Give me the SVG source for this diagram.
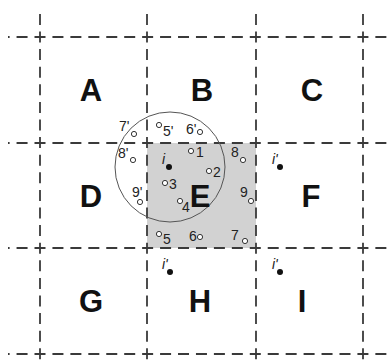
<svg xmlns="http://www.w3.org/2000/svg" width="388" height="364" viewBox="0 0 388 364">
<style>
.grid{stroke:#3a3a3a;stroke-width:1.8;fill:none}
.h{stroke-dasharray:11 6.94;stroke-dashoffset:9.38}
.v{stroke-dasharray:11 6.6;stroke-dashoffset:14.7}
.big{font-family:"Liberation Sans",Arial,sans-serif;font-weight:bold;font-size:31px;text-anchor:middle;fill:#111}
.sm{font-family:"Liberation Sans",Arial,sans-serif;font-size:14px;fill:#222}
.it{font-family:"Liberation Sans",Arial,sans-serif;font-style:italic;font-size:14px;fill:#222}
.pt{fill:#fff;stroke:#333;stroke-width:1}
.dot{fill:#111}
</style>
<rect width="388" height="364" fill="#fff"/>
<rect x="147" y="143" width="109" height="105" fill="#d2d2d2"/>
<g id="connectors">
<line class="grid h" x1="8" y1="37" x2="388" y2="37"/>
<line class="grid h" x1="8" y1="143" x2="388" y2="143"/>
<line class="grid h" x1="8" y1="248" x2="388" y2="248"/>
<line class="grid h" x1="8" y1="354" x2="388" y2="354"/>
<line class="grid v" x1="40" y1="11" x2="40" y2="364"/>
<line class="grid v" x1="147" y1="11" x2="147" y2="364"/>
<line class="grid v" x1="256" y1="11" x2="256" y2="364"/>
<line class="grid v" x1="363" y1="11" x2="363" y2="364"/>
<circle cx="170" cy="167" r="55" fill="none" stroke="#555" stroke-width="1"/>
</g>
<g id="A"><text class="big" x="91" y="101">A</text></g>
<g id="B"><text class="big" x="202" y="101">B</text></g>
<g id="C"><text class="big" x="312" y="101">C</text></g>
<g id="D"><text class="big" x="91" y="207">D</text></g>
<g id="E"><text class="big" x="200" y="207">E</text></g>
<g id="F"><text class="big" x="311" y="207">F</text></g>
<g id="G"><text class="big" x="91" y="312">G</text></g>
<g id="H"><text class="big" x="200" y="312">H</text></g>
<g id="I"><text class="big" x="302" y="312">I</text></g>
<g id="i"><circle class="dot" cx="169" cy="167" r="3"/><text class="it" x="162" y="164">i</text></g>
<g id="p1"><circle class="pt" cx="191" cy="151" r="2.6"/><text class="sm" x="196" y="157">1</text></g>
<g id="p2"><circle class="pt" cx="209" cy="171" r="2.6"/><text class="sm" x="213" y="177">2</text></g>
<g id="p3"><circle class="pt" cx="165" cy="183" r="2.6"/><text class="sm" x="169" y="189">3</text></g>
<g id="p4"><circle class="pt" cx="180" cy="201" r="2.6"/><text class="sm" x="182" y="212">4</text></g>
<g id="p5"><circle class="pt" cx="159" cy="234" r="2.6"/><text class="sm" x="163" y="244">5</text></g>
<g id="p6"><circle class="pt" cx="200" cy="237" r="2.6"/><text class="sm" x="189" y="241">6</text></g>
<g id="p7"><circle class="pt" cx="245" cy="241" r="2.6"/><text class="sm" x="231" y="240">7</text></g>
<g id="p8"><circle class="pt" cx="243" cy="160" r="2.6"/><text class="sm" x="231" y="157">8</text></g>
<g id="p9"><circle class="pt" cx="251" cy="201" r="2.6"/><text class="sm" x="240" y="197">9</text></g>
<g id="p5p"><circle class="pt" cx="159" cy="125" r="2.6"/><text class="sm" x="163" y="136">5'</text></g>
<g id="p6p"><circle class="pt" cx="200" cy="132" r="2.6"/><text class="sm" x="186" y="134">6'</text></g>
<g id="p7p"><circle class="pt" cx="134" cy="134" r="2.6"/><text class="sm" x="119" y="131">7'</text></g>
<g id="p8p"><circle class="pt" cx="133" cy="160" r="2.6"/><text class="sm" x="118" y="158">8'</text></g>
<g id="p9p"><circle class="pt" cx="140" cy="202" r="2.6"/><text class="sm" x="132" y="197">9'</text></g>
<g id="iF"><circle class="dot" cx="280" cy="167" r="3"/><text class="it" x="272" y="164">i'</text></g>
<g id="iH"><circle class="dot" cx="170" cy="272" r="3"/><text class="it" x="162" y="269">i'</text></g>
<g id="iI"><circle class="dot" cx="280" cy="272" r="3"/><text class="it" x="272" y="269">i'</text></g>
</svg>
